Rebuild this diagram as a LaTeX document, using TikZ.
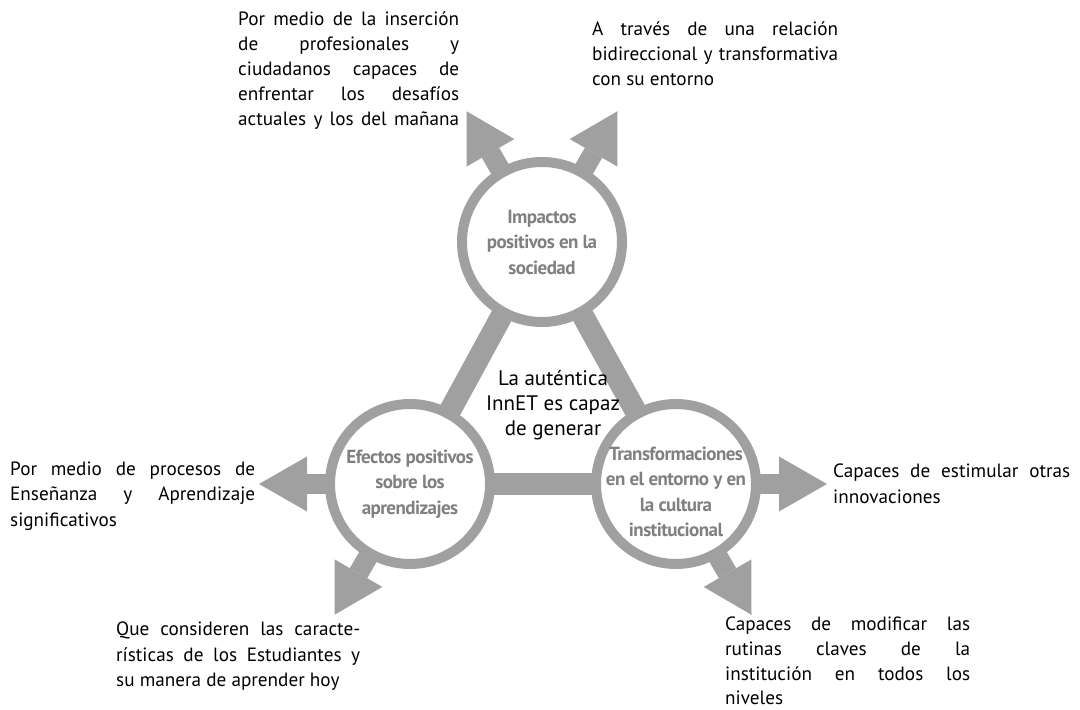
\documentclass[tikz,border=0pt]{standalone}
\usepackage{fontspec}
\setmainfont{PT Sans}
\newfontfamily\ringfont[LetterSpace=-3]{PT Sans Bold}
\usetikzlibrary{arrows.meta}
\usetikzlibrary{backgrounds}
\definecolor{ringgray}{HTML}{A0A0A0}
\definecolor{labelgray}{HTML}{808080}
\newcommand{\jl}[2]{\makebox[#1][s]{#2}}
\tikzset{
    ring/.style = {circle, line width=10pt, draw=ringgray, fill=white, minimum size=160pt, inner sep=0pt},
    ringtext/.style = {align=center, inner sep=0pt, text=labelgray, font=\ringfont\fontsize{19}{25.5}\selectfont},
    bodytext/.style = {align=left, inner sep=0pt, anchor=north west, font=\fontsize{19.2}{25.2}\selectfont},
    midtext/.style = {align=center, inner sep=0pt, font=\fontsize{21}{25}\selectfont},
    bar/.style = {-, line width=22pt, ringgray, shorten <=-4pt, shorten >=-4pt},
    outarrow/.style = {line width=20pt, ringgray, shorten <=-4pt, -{Triangle[length=48pt,width=55pt,line width=0pt]}}
}

\begin{document}
\begin{tikzpicture}[x=1pt,y=1pt]
\useasboundingbox (0,0) rectangle (1080,710);
% rings
\node[ring] at (542,468) (imp) {};
\node[ring] at (410,226) (efe) {};
\node[ring] at (676,226) (tra) {};
\node[ringtext] at (542,468) (impt) {Impactos\\positivos en la\\sociedad};
\node[ringtext] at (410,226) (efet) {Efectos positivos\\sobre los\\aprendizajes};
\node[ringtext] at (676,218) (trat) {Transformaciones\\en el entorno y en\\la cultura\\institucional};
\node[midtext] at (553,305) (mid) {La auténtica\\InnET es capaz\\de generar};
% arrow ends
\path (imp) ++(120:151) coordinate (impa);
\path (imp) ++(60:151) coordinate (impb);
\path (efe) ++(180:151) coordinate (efea);
\path (efe) ++(240:151) coordinate (efeb);
\path (tra) ++(0:151) coordinate (traa);
\path (tra) ++(300:151) coordinate (trab);
\begin{scope}[on background layer]
\draw[bar] (imp) -- (efe);
\draw[bar] (imp) -- (tra);
\draw[bar] (efe) -- (tra);
\draw[outarrow] (imp) -- (impa);
\draw[outarrow] (imp) -- (impb);
\draw[outarrow] (efe) -- (efea);
\draw[outarrow] (efe) -- (efeb);
\draw[outarrow] (tra) -- (traa);
\draw[outarrow] (tra) -- (trab);
\end{scope}
% texts
\node[bodytext] at (238,699) (t1) {\jl{221pt}{Por medio de la inserción}\\\jl{221pt}{de profesionales y}\\\jl{221pt}{ciudadanos capaces de}\\\jl{221pt}{enfrentar los desafíos}\\\jl{221pt}{actuales y los del mañana}};
\node[bodytext] at (592,689) (t2) {\jl{246pt}{A través de una relación}\\\jl{246pt}{bidireccional y transformativa}\\con su entorno};
\node[bodytext] at (10,248) (t3) {\jl{245pt}{Por medio de procesos de}\\\jl{245pt}{Enseñanza y Aprendizaje}\\significativos};
\node[bodytext] at (116,88) (t4) {\jl{244pt}{Que consideren las caracte-}\\\jl{244pt}{rísticas de los Estudiantes y}\\su manera de aprender hoy};
\node[bodytext] at (833,246) (t5) {\jl{237pt}{Capaces de estimular otras}\\innovaciones};
\node[bodytext, font=\fontsize{19.2}{24.6}\selectfont] at (725,93) (t6) {\jl{245pt}{Capaces de modificar las}\\\jl{245pt}{rutinas claves de la}\\\jl{245pt}{institución en todos los}\\niveles};
\end{tikzpicture}
\end{document}
